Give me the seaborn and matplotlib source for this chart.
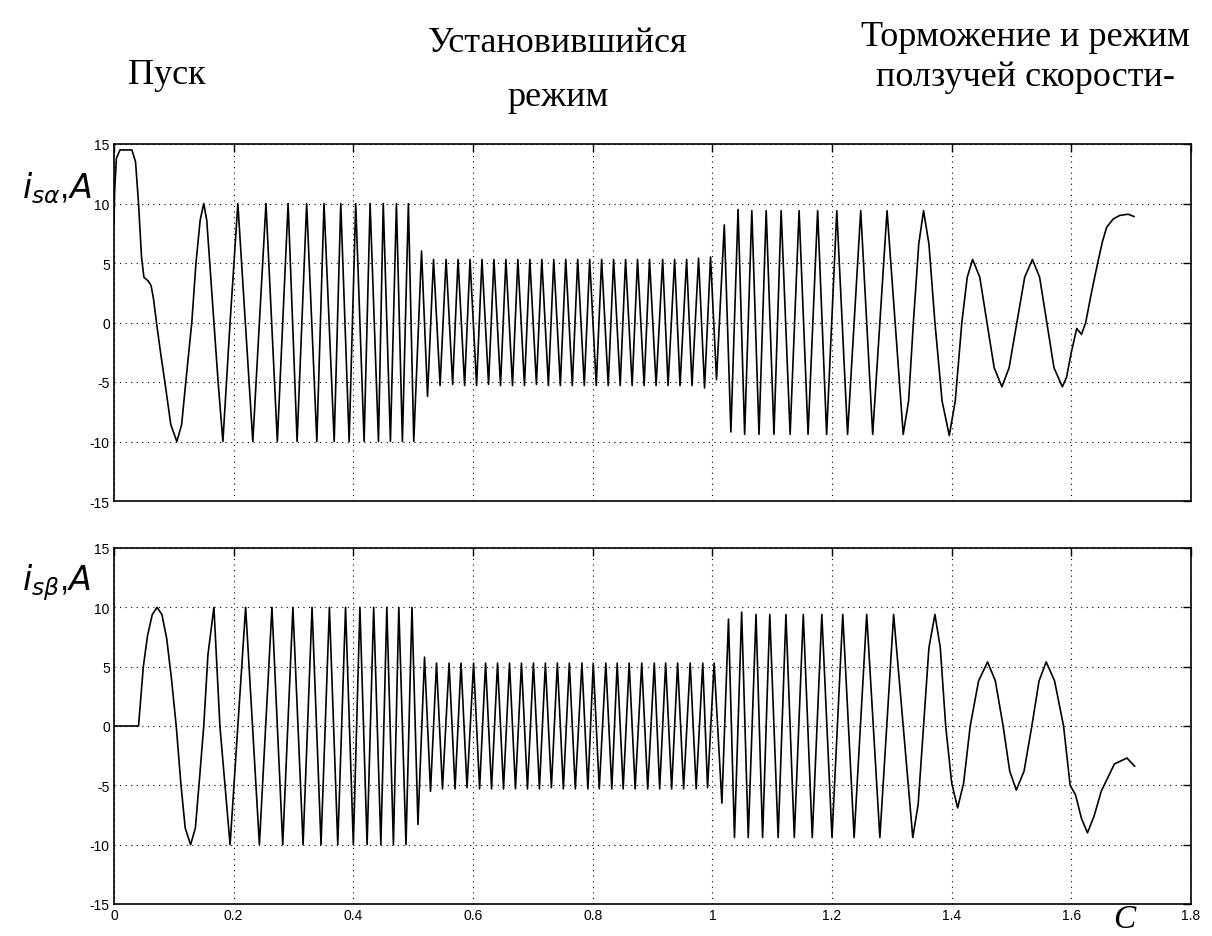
import matplotlib
matplotlib.use('Agg')
import matplotlib.pyplot as plt
import seaborn as sns
import pandas as pd

# i_s_alpha: start, acceleration, steady state, braking/creep
alpha_start_t = [0.000, 0.001, 0.004, 0.010, 0.030, 0.036, 0.041, 0.046, 0.050, 0.057, 0.062, 0.066,
                 0.071, 0.078, 0.085, 0.095, 0.105, 0.113, 0.120, 0.130, 0.137, 0.144, 0.150, 0.155,
                 0.160, 0.167, 0.174, 0.182, 0.194]
alpha_start_i = [8.2, 11.0, 13.8, 14.5, 14.5, 13.5, 10.0, 5.5, 3.8, 3.5, 3.1, 2.0,
                 0.0, -2.6, -5.0, -8.6, -10.0, -8.6, -5.0, 0.0, 5.0, 8.6, 10.0, 8.6,
                 5.0, 0.0, -5.0, -10.0, 0.0]

alpha_accel_t = [0.207, 0.232, 0.254, 0.273, 0.291, 0.306, 0.322, 0.339, 0.351, 0.368, 0.379, 0.393,
                 0.404, 0.418, 0.428, 0.442, 0.450, 0.462, 0.472, 0.482, 0.492, 0.501, 0.514, 0.524]
alpha_accel_i = [10.0, -10.0, 10.0, -10.0, 10.0, -10.0, 10.0, -10.0, 10.0, -10.0, 10.0, -10.0,
                 10.0, -10.0, 10.0, -10.0, 10.0, -10.0, 10.0, -10.0, 10.0, -10.0, 6.0, -6.2]

alpha_steady_t = [0.534, 0.545, 0.555, 0.566, 0.575, 0.586, 0.595, 0.606, 0.615, 0.626, 0.635, 0.646,
                  0.655, 0.666, 0.675, 0.686, 0.695, 0.706, 0.715, 0.726, 0.735, 0.746, 0.755, 0.766,
                  0.775, 0.786, 0.795, 0.806, 0.815, 0.826, 0.835, 0.846, 0.855, 0.866, 0.875, 0.886,
                  0.895, 0.906, 0.917, 0.926, 0.937, 0.946, 0.957, 0.966, 0.977, 0.987, 0.997, 1.007]
alpha_steady_i = [5.3, -5.3, 5.3, -5.2, 5.3, -5.3, 5.3, -5.3, 5.3, -5.2, 5.3, -5.3,
                  5.3, -5.3, 5.3, -5.3, 5.3, -5.2, 5.3, -5.3, 5.3, -5.3, 5.3, -5.3,
                  5.3, -5.3, 5.3, -5.3, 5.3, -5.3, 5.3, -5.3, 5.3, -5.3, 5.3, -5.3,
                  5.3, -5.3, 5.3, -5.3, 5.3, -5.3, 5.3, -5.3, 5.4, -5.5, 5.5, -4.8]

alpha_brake_t = [1.020, 1.031, 1.043, 1.054, 1.066, 1.078, 1.090, 1.103, 1.115, 1.130, 1.145, 1.160,
                 1.176, 1.191, 1.208, 1.226, 1.248, 1.268, 1.292, 1.319, 1.328, 1.336, 1.345, 1.353,
                 1.362, 1.372, 1.384, 1.396, 1.406, 1.417, 1.426, 1.435, 1.447, 1.459, 1.471, 1.484,
                 1.496, 1.509, 1.522, 1.535, 1.547, 1.559, 1.571, 1.585, 1.592, 1.600, 1.609, 1.617,
                 1.624, 1.634, 1.644, 1.652, 1.659, 1.670, 1.681, 1.695, 1.705]
alpha_brake_i = [8.2, -9.2, 9.5, -9.4, 9.4, -9.4, 9.4, -9.4, 9.4, -9.4, 9.4, -9.4,
                 9.4, -9.4, 9.4, -9.4, 9.4, -9.4, 9.4, -9.4, -6.6, 0.0, 6.6, 9.4,
                 6.6, 0.0, -6.6, -9.5, -6.6, 0.0, 3.8, 5.3, 3.8, 0.0, -3.8, -5.4,
                 -3.8, 0.0, 3.8, 5.3, 3.8, 0.0, -3.8, -5.4, -4.6, -2.5, -0.5, -1.0,
                 0.0, 2.6, 5.0, 6.8, 8.0, 8.7, 9.0, 9.1, 8.9]

# i_s_beta
beta_start_t = [0.000, 0.041, 0.049, 0.056, 0.064, 0.072, 0.080, 0.088, 0.096, 0.104, 0.112, 0.119,
                0.128, 0.136, 0.142, 0.150, 0.157, 0.167, 0.177, 0.194, 0.207]
beta_start_i = [0.0, 0.0, 5.0, 7.6, 9.4, 10.0, 9.4, 7.4, 4.0, 0.0, -5.0, -8.6,
                -10.0, -8.6, -5.0, 0.0, 6.0, 10.0, 0.0, -10.0, 0.0]

beta_accel_t = [0.220, 0.243, 0.264, 0.282, 0.299, 0.316, 0.331, 0.346, 0.360, 0.374, 0.387, 0.400,
                0.411, 0.423, 0.434, 0.446, 0.456, 0.467, 0.476, 0.488, 0.498, 0.508, 0.519, 0.529]
beta_accel_i = [10.0, -10.0, 10.0, -10.0, 10.0, -10.0, 10.0, -10.0, 10.0, -10.0, 10.0, -10.0,
                10.0, -10.0, 10.0, -10.0, 10.0, -10.0, 10.0, -10.0, 10.0, -8.3, 5.8, -5.5]

beta_steady_t = [0.539, 0.549, 0.560, 0.570, 0.580, 0.590, 0.601, 0.611, 0.621, 0.631, 0.641, 0.651,
                 0.661, 0.671, 0.681, 0.691, 0.701, 0.711, 0.721, 0.731, 0.741, 0.751, 0.761, 0.771,
                 0.782, 0.792, 0.801, 0.811, 0.822, 0.832, 0.841, 0.851, 0.861, 0.871, 0.882, 0.892,
                 0.903, 0.912, 0.922, 0.932, 0.942, 0.952, 0.963, 0.973, 0.984, 0.992, 1.003]
beta_steady_i = [5.3, -5.3, 5.3, -5.3, 5.3, -5.2, 5.3, -5.3, 5.3, -5.3, 5.3, -5.3,
                 5.3, -5.3, 5.3, -5.3, 5.3, -5.3, 5.3, -5.2, 5.3, -5.3, 5.3, -5.3,
                 5.3, -5.3, 5.3, -5.3, 5.3, -5.3, 5.3, -5.3, 5.3, -5.3, 5.3, -5.3,
                 5.3, -5.3, 5.3, -5.3, 5.3, -5.3, 5.3, -5.3, 5.3, -5.2, 5.3]

beta_brake_t = [1.016, 1.027, 1.037, 1.049, 1.060, 1.073, 1.084, 1.096, 1.110, 1.123, 1.137, 1.152,
                1.167, 1.183, 1.200, 1.218, 1.237, 1.258, 1.280, 1.303, 1.335, 1.344, 1.353, 1.362,
                1.372, 1.381, 1.390, 1.400, 1.410, 1.420, 1.431, 1.445, 1.460, 1.473, 1.486, 1.497,
                1.508, 1.521, 1.534, 1.546, 1.558, 1.572, 1.587, 1.598, 1.607, 1.617, 1.627, 1.638,
                1.650, 1.672, 1.693, 1.706]
beta_brake_i = [-6.5, 9.0, -9.4, 9.6, -9.4, 9.4, -9.4, 9.4, -9.4, 9.4, -9.4, 9.4,
                -9.4, 9.4, -9.4, 9.4, -9.4, 9.4, -9.4, 9.4, -9.4, -6.6, 0.0, 6.6,
                9.4, 6.6, 0.0, -4.8, -6.9, -4.8, 0.0, 3.8, 5.4, 3.8, 0.0, -3.8,
                -5.4, -3.8, 0.0, 3.8, 5.4, 3.8, 0.0, -5.0, -5.8, -7.8, -9.0, -7.6,
                -5.5, -3.2, -2.7, -3.4]

df_alpha = pd.DataFrame({'t': alpha_start_t + alpha_accel_t + alpha_steady_t + alpha_brake_t,
                         'i': alpha_start_i + alpha_accel_i + alpha_steady_i + alpha_brake_i})
df_beta = pd.DataFrame({'t': beta_start_t + beta_accel_t + beta_steady_t + beta_brake_t,
                        'i': beta_start_i + beta_accel_i + beta_steady_i + beta_brake_i})

sns.set_style('white')
plt.rcParams['font.family'] = ['Liberation Sans Narrow', 'Liberation Sans', 'DejaVu Sans']
plt.rcParams['text.color'] = 'black'
plt.rcParams['axes.unicode_minus'] = False

fig = plt.figure(figsize=(12.12, 9.37), dpi=100)
ax1 = fig.add_axes([114 / 1212, 1 - 502 / 937, 1077 / 1212, 357 / 937])
ax2 = fig.add_axes([114 / 1212, 1 - 905 / 937, 1077 / 1212, 356 / 937])

for ax, df in [(ax1, df_alpha), (ax2, df_beta)]:
    sns.lineplot(data=df, x='t', y='i', ax=ax, color='black', lw=1.2, estimator=None, sort=False)
    ax.set_xlim(0, 1.8)
    ax.set_ylim(-15, 15)
    ax.set_xticks([0, 0.2, 0.4, 0.6, 0.8, 1.0, 1.2, 1.4, 1.6, 1.8])
    ax.set_yticks([-15, -10, -5, 0, 5, 10, 15])
    ax.grid(True, color='black', linestyle=(0, (1, 4)), linewidth=0.8)
    ax.tick_params(direction='in', top=True, right=True, length=6, width=1,
                   labelsize=10, pad=3, colors='black', labelcolor='black')
    for s in ax.spines.values():
        s.set_color('black')
        s.set_linewidth(1.2)
    ax.set_xlabel('')
    ax.set_ylabel('')

ax1.set_xticklabels([])
ax2.set_xticklabels(['0', '0.2', '0.4', '0.6', '0.8', '1', '1.2', '1.4', '1.6', '1.8'])

serif = ['Liberation Serif', 'DejaVu Serif']
fig.text(167 / 1212, 1 - 75 / 937, 'Пуск', family=serif, fontsize=26, ha='center', va='center')
fig.text(558 / 1212, 1 - 43 / 937, 'Установившийся', family=serif, fontsize=26, ha='center', va='center')
fig.text(558 / 1212, 1 - 97 / 937, 'режим', family=serif, fontsize=26, ha='center', va='center')
fig.text(1025 / 1212, 1 - 37 / 937, 'Торможение и режим', family=serif, fontsize=26, ha='center', va='center')
fig.text(1025 / 1212, 1 - 78 / 937, 'ползучей скорости-', family=serif, fontsize=26, ha='center', va='center')

fig.text(22 / 1212, 1 - 188 / 937, r'$i_{s\alpha}$,$A$', fontsize=24, ha='left', va='center')
fig.text(22 / 1212, 1 - 583 / 937, r'$i_{s\beta}$,$A$', fontsize=24, ha='left', va='center')
fig.text(1124 / 1212, 1 - 920 / 937, 'C', family=serif, style='italic', fontsize=24, ha='center', va='center')

fig.savefig('out.png', dpi=100, facecolor='white')
